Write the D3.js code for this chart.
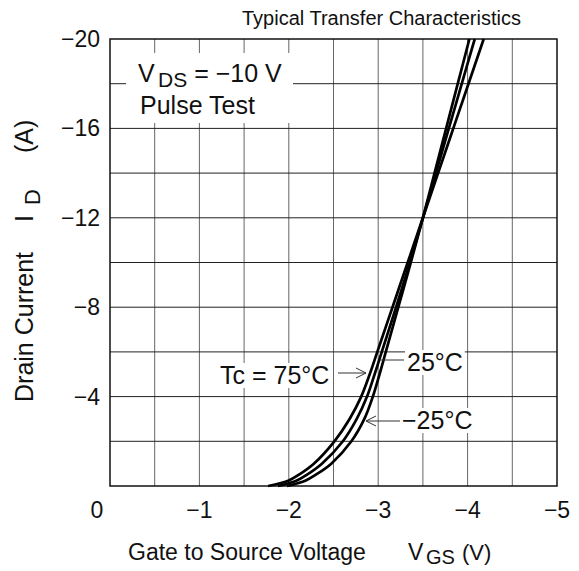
<!DOCTYPE html>
<html><head><meta charset="utf-8">
<script src="https://cdn.jsdelivr.net/npm/d3@7"></script>
<style>body{margin:0;background:#fff}svg{display:block}text{font-family:"Liberation Sans",Arial,sans-serif;fill:#111}</style>
</head><body>
<svg id="c" width="579" height="571"></svg>
<script>
// Data
const idLevels = [0, -0.25, -0.5, -1, -2, -3, -4, -5, -6, -8, -10, -12, -14, -16, -18, -20];
const vgs75  = [-1.77, -2.00, -2.11, -2.28, -2.51, -2.68, -2.81, -2.905, -2.99, -3.16, -3.33, -3.5, -3.67, -3.84, -4.01, -4.18];
const vgs25  = [-1.88, -2.09, -2.20, -2.37, -2.605, -2.76, -2.875, -2.96, -3.04, -3.20, -3.355, -3.5, -3.645, -3.79, -3.935, -4.08];
const vgsM25 = [-1.98, -2.19, -2.30, -2.475, -2.70, -2.845, -2.94, -3.015, -3.085, -3.225, -3.365, -3.5, -3.63, -3.76, -3.89, -4.02];
const xTicks = [0, -1, -2, -3, -4, -5];
const yTicks = [-4, -8, -12, -16, -20];
const xGrid = d3.range(0, 11).map(i => -i * 0.5);
const yGrid = d3.range(0, 11).map(i => -i * 2);

const svg = d3.select("#c");
const x = d3.scaleLinear().domain([0, -5]).range([110, 557]);
const y = d3.scaleLinear().domain([0, -20]).range([486, 39]);

// grid
svg.append("g").selectAll("line").data(xGrid.slice(1, -1)).join("line")
  .attr("x1", d => x(d)).attr("x2", d => x(d)).attr("y1", y(0)).attr("y2", y(-20))
  .attr("stroke", "#666").attr("stroke-width", 1);
svg.append("g").selectAll("line").data(yGrid.slice(1, -1)).join("line")
  .attr("y1", d => y(d)).attr("y2", d => y(d)).attr("x1", x(0)).attr("x2", x(-5))
  .attr("stroke", "#222").attr("stroke-width", 1);

// VDS box
const ann = svg.append("g");
ann.append("rect").attr("x", 126).attr("y", 53).attr("width", 167).attr("height", 70).attr("fill", "#fff");
const vds = ann.append("text").attr("y", 82).attr("font-size", 25);
vds.append("tspan").attr("x", 138).text("V");
vds.append("tspan").attr("x", 158).attr("dy", 5).attr("font-size", 21).text("DS");
vds.append("tspan").attr("dy", -5).text(" = \u221210 V");
ann.append("text").attr("x", 140).attr("y", 114).attr("font-size", 25).text("Pulse Test");

// frame
svg.append("rect").attr("x", x(0)).attr("y", y(-20)).attr("width", x(-5) - x(0)).attr("height", y(0) - y(-20))
  .attr("fill", "none").attr("stroke", "#111").attr("stroke-width", 1.5);

// curves
const line = d3.line().x(d => x(d[0])).y(d => y(d[1])).curve(d3.curveCatmullRom.alpha(0.5));
[vgs75, vgs25, vgsM25].forEach(v => {
  svg.append("path").datum(v.map((vv, i) => [vv, idLevels[i]]))
    .attr("d", line).attr("fill", "none").attr("stroke", "#000").attr("stroke-width", 2.7);
});

// labels with arrows
const lab = svg.append("g");
function label(txt, tx, ty) {
  const t = lab.append("text").attr("x", tx).attr("y", ty).attr("font-size", 25).text(txt);
  const b = t.node().getBBox();
  lab.insert("rect", ":first-child").attr("x", b.x - 2).attr("y", b.y + 2).attr("width", b.width + 4).attr("height", b.height - 3).attr("fill", "#fff");
}
label("Tc = 75\u00b0C", 220, 384);
label("25\u00b0C", 407, 371);
label("\u221225\u00b0C", 402, 429);
function arrow(x1, y1, x2, y2, head) {
  lab.append("line").attr("x1", x1).attr("y1", y1).attr("x2", x2).attr("y2", y2).attr("stroke", "#333").attr("stroke-width", 1);
  if (head) {
    const dir = Math.sign(x2 - x1);
    lab.append("path").attr("d", `M${x2 - dir * 10},${y2 - 5}L${x2},${y2}L${x2 - dir * 10},${y2 + 5}`)
      .attr("fill", "none").attr("stroke", "#333").attr("stroke-width", 1);
  }
}
arrow(338, 373, 366, 373, true);
arrow(404, 360, 380, 360, false);
arrow(400, 421, 366, 421, true);

// tick labels
svg.append("g").selectAll("text").data(yTicks).join("text")
  .attr("x", 100).attr("y", d => y(d)).attr("dy", "0.35em").attr("text-anchor", "end").attr("font-size", 23)
  .text(d => "\u2212" + Math.abs(d));
svg.append("g").selectAll("text").data(xTicks).join("text")
  .attr("x", d => d === 0 ? 97 : x(d)).attr("y", 518).attr("text-anchor", "middle").attr("font-size", 23)
  .text(d => d === 0 ? "0" : "\u2212" + Math.abs(d));

// title
svg.append("text").attr("x", 242).attr("y", 25).attr("font-size", 20).text("Typical Transfer Characteristics");

// x axis title
const xt = svg.append("text").attr("y", 560).attr("font-size", 23);
xt.append("tspan").attr("x", 128).text("Gate to Source Voltage");
xt.append("tspan").attr("x", 408).text("V");
xt.append("tspan").attr("x", 426).attr("dy", 4).attr("font-size", 20).text("GS");
xt.append("tspan").attr("x", 462).attr("dy", -4).attr("font-size", 22).text("(V)");

// y axis title
const yt = svg.append("text").attr("transform", "translate(33,402) rotate(-90)").attr("font-size", 25);
yt.append("tspan").attr("x", 0).text("Drain Current");
yt.append("tspan").attr("x", 180).text("I");
yt.append("tspan").attr("x", 197).attr("dy", 7).attr("font-size", 22).text("D");
yt.append("tspan").attr("x", 249).attr("dy", -7).text("(A)");
</script>
</body></html>
